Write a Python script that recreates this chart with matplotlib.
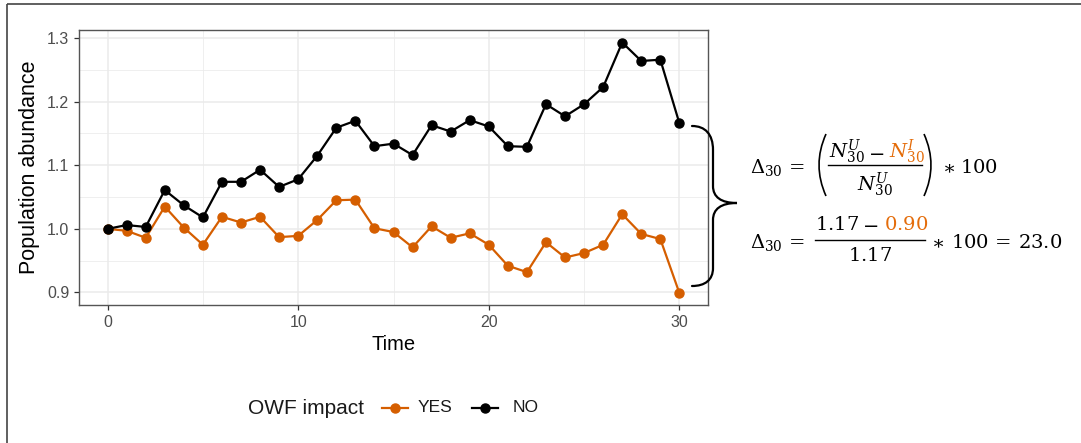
import matplotlib
matplotlib.use("Agg")
import matplotlib.pyplot as plt
from matplotlib.path import Path
from matplotlib.patches import PathPatch

# ---------------- data ----------------
time = list(range(31))
abund_no = [1.000, 1.006, 1.003, 1.061, 1.037, 1.018, 1.074, 1.074, 1.093, 1.066,
            1.078, 1.115, 1.159, 1.170, 1.130, 1.134, 1.116, 1.163, 1.153, 1.171,
            1.161, 1.130, 1.129, 1.196, 1.177, 1.196, 1.223, 1.293, 1.264, 1.266,
            1.166]
abund_yes = [1.000, 0.997, 0.986, 1.035, 1.002, 0.975, 1.019, 1.010, 1.019, 0.987,
             0.989, 1.014, 1.045, 1.046, 1.001, 0.995, 0.971, 1.004, 0.986, 0.993,
             0.975, 0.942, 0.932, 0.979, 0.955, 0.962, 0.975, 1.023, 0.992, 0.984,
             0.899]
series_labels = ["YES", "NO"]
legend_title = "OWF impact"
x_ticks = [0, 10, 20, 30]
y_ticks = [0.9, 1.0, 1.1, 1.2, 1.3]
eq_U = "1.17"
eq_I = "0.90"
eq_result = "23.0"

ORANGE = "#D55E00"
EQ_ORANGE = "#E46C0A"
BLACK = "#000000"

plt.rcParams["font.family"] = ["Liberation Sans", "DejaVu Sans"]
plt.rcParams["mathtext.fontset"] = "dejavuserif"

W, H = 1081, 443
fig = plt.figure(figsize=(W / 100, H / 100), dpi=100)

# main panel (pixel box 79..708 x 30..305)
L, R, T, B = 79, 708, 30, 305
ax = fig.add_axes([L / W, (H - B) / H, (R - L) / W, (B - T) / H])

ax.set_xlim(-1.5, 31.5)
ax.set_ylim(0.8803, 1.3127)
ax.set_xticks(x_ticks)
ax.set_yticks(y_ticks)
ax.set_yticklabels([f"{v:.1f}" for v in y_ticks])
ax.set_xticks([5, 15, 25], minor=True)
ax.set_yticks([0.95, 1.05, 1.15, 1.25], minor=True)
ax.grid(which="major", color="#EBEBEB", lw=1.1)
ax.grid(which="minor", color="#EBEBEB", lw=0.55)
ax.set_axisbelow(True)
ax.tick_params(which="major", length=3.6, width=0.9, color="#333333",
               labelcolor="#4D4D4D", labelsize=11.5, pad=3.5)
ax.tick_params(which="minor", length=0)
for s in ax.spines.values():
    s.set_color("#555555")
    s.set_linewidth(1.0)

ax.plot(time, abund_yes, color=ORANGE, lw=1.6, marker="o", ms=6.5, zorder=3)
ax.plot(time, abund_no, color=BLACK, lw=1.6, marker="o", ms=6.5, zorder=4)

ax.set_xlabel("Time", fontsize=14.5, labelpad=4)
ax.set_ylabel("Population abundance", fontsize=15.5, labelpad=5)

# overlay in pixel coordinates
ov = fig.add_axes([0, 0, 1, 1])
ov.set_xlim(0, W)
ov.set_ylim(H, 0)
ov.axis("off")
ov.patch.set_alpha(0)

# outer frame (left + top)
ov.plot([7, 7], [4, H + 5], color="#444444", lw=1.2, solid_capstyle="butt")
ov.plot([7, W + 5], [4, 4], color="#444444", lw=1.2, solid_capstyle="butt")

# legend
ov.text(248, 408, legend_title, fontsize=15, ha="left", va="center", color="#1A1A1A")
ov.plot([382, 408], [408, 408], color=ORANGE, lw=1.6)
ov.plot([395], [408], marker="o", ms=6.5, color=ORANGE)
ov.text(418, 408, series_labels[0], fontsize=12.5, ha="left", va="center", color="#1A1A1A")
ov.plot([472, 498], [408, 408], color=BLACK, lw=1.6)
ov.plot([485], [408], marker="o", ms=6.5, color=BLACK)
ov.text(513, 408, series_labels[1], fontsize=12.5, ha="left", va="center", color="#1A1A1A")

# curly brace
verts = [(692, 126), (705, 126), (713, 134), (713, 150),
         (713, 186),
         (713, 197), (721, 203), (737, 203),
         (721, 203), (713, 209), (713, 220),
         (713, 268),
         (713, 280), (705, 286), (692, 286)]
codes = [Path.MOVETO, Path.CURVE4, Path.CURVE4, Path.CURVE4,
         Path.LINETO,
         Path.CURVE4, Path.CURVE4, Path.CURVE4,
         Path.CURVE4, Path.CURVE4, Path.CURVE4,
         Path.LINETO,
         Path.CURVE4, Path.CURVE4, Path.CURVE4]
ov.add_patch(PathPatch(Path(verts, codes), fill=False, lw=1.6, color="black",
                       capstyle="round"))

FS = 14
# ---- equation line 1 ----
ov.text(750, 173, r"$\Delta_{30}\,=$", fontsize=FS, ha="left", va="baseline")
for xs, xc in ((826, 812), (924, 938)):
    p = Path([(xs, 134), (xc, 165), (xs, 196)], [Path.MOVETO, Path.CURVE3, Path.CURVE3])
    ov.add_patch(PathPatch(p, fill=False, lw=1.2, color="black"))
ov.text(829, 158, r"$N^{U}_{30}$", fontsize=FS, ha="left", va="baseline")
ov.text(876, 158, r"$-$", fontsize=FS, ha="center", va="baseline")
ov.text(889, 158, r"$N^{I}_{30}$", fontsize=FS, ha="left", va="baseline", color=EQ_ORANGE)
ov.plot([828, 922], [165, 165], color="black", lw=1.0)
ov.text(875, 191, r"$N^{U}_{30}$", fontsize=FS, ha="center", va="baseline")
ov.text(942, 173, r"$\ast$", fontsize=FS, ha="left", va="baseline")
ov.text(960, 173, r"$100$", fontsize=FS, ha="left", va="baseline")

# ---- equation line 2 ----
ov.text(750, 248, r"$\Delta_{30}\,=$", fontsize=FS, ha="left", va="baseline")
ov.text(815, 230, r"$%s$" % eq_U, fontsize=FS, ha="left", va="baseline")
ov.text(870, 230, r"$-$", fontsize=FS, ha="center", va="baseline")
ov.text(884, 230, r"$%s$" % eq_I, fontsize=FS, ha="left", va="baseline", color=EQ_ORANGE)
ov.plot([815, 925], [240, 240], color="black", lw=1.0)
ov.text(870, 261, r"$%s$" % eq_U, fontsize=FS, ha="center", va="baseline")
ov.text(931, 248, r"$\ast$", fontsize=FS, ha="left", va="baseline")
ov.text(951, 248, r"$100\,=\,%s$" % eq_result, fontsize=FS, ha="left", va="baseline")

fig.savefig("out.png", dpi=100)
